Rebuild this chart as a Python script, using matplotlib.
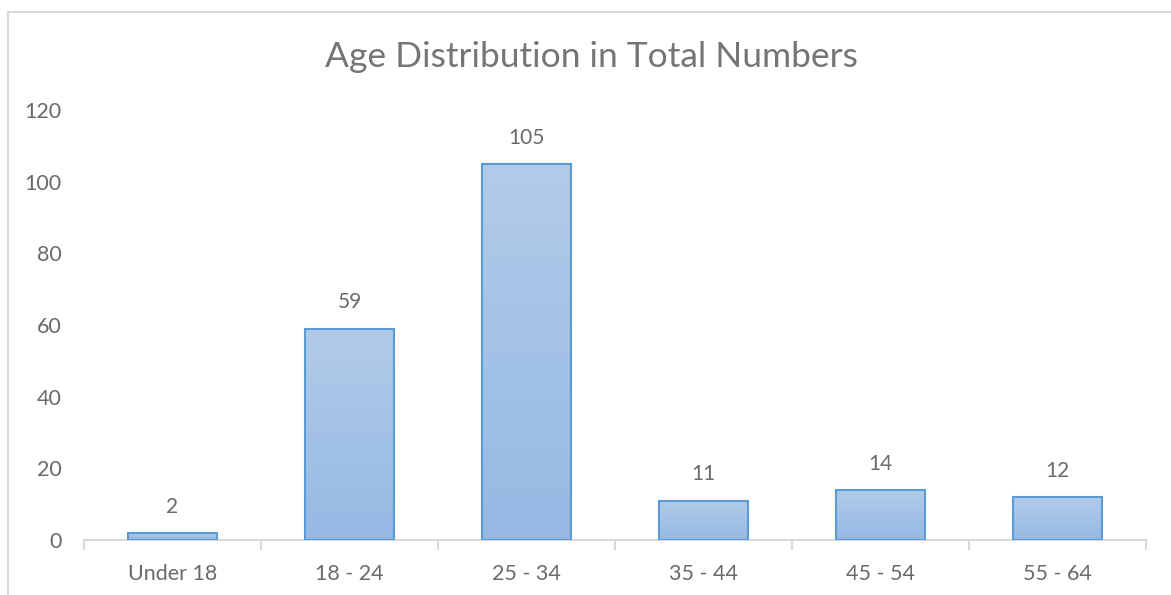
import numpy as np
import matplotlib
matplotlib.use("Agg")
import matplotlib.pyplot as plt
from matplotlib.patches import Rectangle

categories = ["Under 18", "18 - 24", "25 - 34", "35 - 44", "45 - 54", "55 - 64"]
counts = [2, 59, 105, 11, 14, 12]
yticks = [0, 20, 40, 60, 80, 100, 120]

plt.rcParams["font.family"] = ["Lato", "DejaVu Sans"]
grey = "#6a6a6a"

fig = plt.figure(figsize=(11.71, 5.95), dpi=100)
# chart-area frame (only top/left edges are inside the picture)
fig.patches.append(Rectangle((8 / 1171, -0.5), 1.5, 1.5 - 11.5 / 595, transform=fig.transFigure,
                             fill=False, edgecolor="#d9d9d9", linewidth=1.5))

ax = fig.add_axes([84 / 1171, 55 / 595, (1146 - 84) / 1171, 430 / 595])
x = np.arange(len(categories))
bars = ax.bar(x, counts, width=0.5, color="none", edgecolor="#5b9bd5", linewidth=1.5, zorder=3)

# vertical gradient fill like the Excel default
grad = np.linspace(0, 1, 256).reshape(-1, 1)
cmap = matplotlib.colors.LinearSegmentedColormap.from_list("g", ["#b2cbe9", "#95b9e4"])
for b in bars:
    x0, y0 = b.get_x(), b.get_y()
    im = ax.imshow(grad, cmap=cmap, aspect="auto", origin="upper",
                   extent=[x0, x0 + b.get_width(), y0, y0 + b.get_height()], zorder=2)
    im.set_clip_path(b)

for xi, v in zip(x, counts):
    ax.text(xi, v + 4.5, str(v), ha="center", va="bottom", fontsize=15, color=grey)

ax.set_xlim(-0.5, len(categories) - 0.5)
ax.set_ylim(0, 120)
ax.set_yticks(yticks)
ax.set_xticks(x)
ax.set_xticklabels(categories)
ax.set_xticks(np.arange(len(categories) + 1) - 0.5, minor=True)
ax.tick_params(axis="x", which="major", length=0, pad=17, labelsize=15.5, labelcolor=grey)
ax.tick_params(axis="x", which="minor", length=7, color="#d9d9d9", width=1.5)
ax.tick_params(axis="y", length=0, pad=16, labelsize=15.5, labelcolor=grey)
for s in ["top", "right", "left"]:
    ax.spines[s].set_visible(False)
ax.spines["bottom"].set_color("#d9d9d9")
ax.spines["bottom"].set_linewidth(1.5)

fig.text(591 / 1171, 1 - 57 / 595, "Age Distribution in Total Numbers", ha="center", va="center",
         fontsize=25.5, color="#757575")

fig.savefig("out.png", dpi=100)
